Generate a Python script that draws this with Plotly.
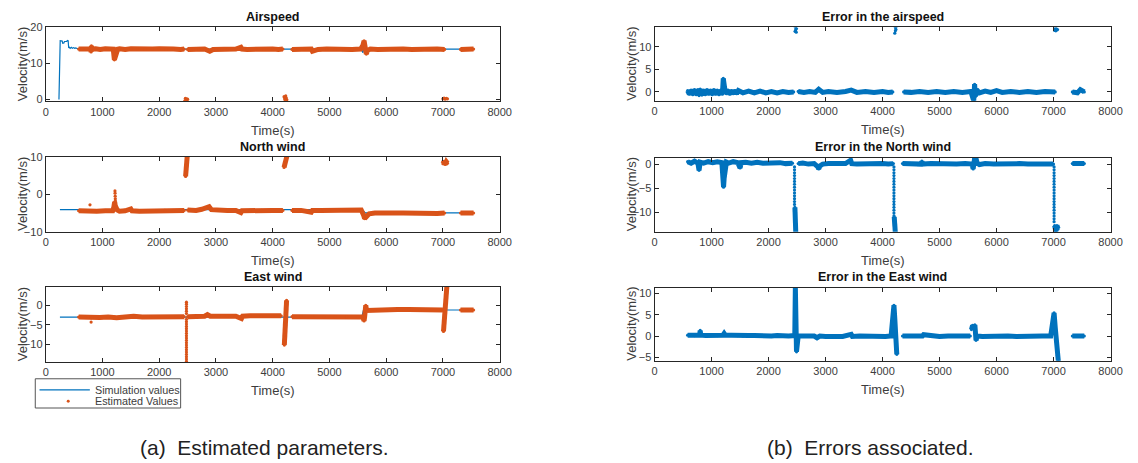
import plotly.graph_objects as go

BLUE = "#0072BD"
ORANGE = "#D95319"
AXC = "#262626"
TXT = "#3c3c3c"
W, H = 1138, 463
FONT = "Liberation Sans, Arial, sans-serif"

# ---------------- simulation values (reference signals) ----------------
air_sim_t = [233, 250, 255, 290, 300, 320, 330, 370, 380, 395, 405, 415, 430, 450, 470,
             490, 510, 530, 560, 600, 5560, 5590, 5620, 5660, 5700, 7500]
air_sim_v = [0.0, 16.2, 16.3, 16.2, 15.6, 15.7, 16.1, 16.1, 16.4, 16.3, 14.3, 14.5, 14.2,
             14.5, 14.2, 14.4, 14.2, 14.3, 14.1, 14.0, 14.0, 13.0, 15.5, 14.0, 14.0, 14.0]

north_sim_t = [250, 5580, 5630, 7500]
north_sim_v = [-4.1, -4.1, -4.95, -4.95]

east_sim_t = [250, 5570, 5600, 7500]
east_sim_v = [-3.0, -3.0, -1.2, -1.2]

# ---------------- estimated values ----------------
air_est_t = [580, 650, 720, 790, 800, 805, 810, 880, 960, 1050, 1130, 1190, 1210, 1220, 1235,
             1250, 1270, 1300, 1400, 1500, 1620, 1750, 1880, 2000, 2120, 2250, 2380, 2440, None,
             2500, 2600, 2700, 2800, 2860, 2890, 2950, 3050, 3200, 3350, 3440, 3460, 3550, 3700,
             3850, 4000, 4100, 4180, None,
             4340, 4450, 4560, 4680, 4700, 4800, 4950, 5100, 5250, 5400, 5550, 5590, 5610, 5630,
             5650, 5670, 5720, 5850, 6000, 6150, 6300, 6450, 6600, 6750, 6900, 7030, None,
             7310, 7400, 7480, 7540]
air_est_v = [14.0, 14.1, 13.9, 14.0, 13.2, 14.9, 14.0, 14.1, 13.9, 14.1, 14.0, 14.0, 11.0, 11.5,
             12.5, 13.5, 14.0, 14.1, 13.9, 14.1, 14.0, 13.9, 14.0, 14.1, 13.9, 14.0, 13.9, 14.0, None,
             13.9, 14.0, 13.9, 14.0, 13.6, 13.4, 13.9, 14.0, 13.9, 14.0, 14.5, 14.0, 13.9, 14.0,
             13.9, 14.0, 13.9, 14.0, None,
             13.9, 14.0, 13.9, 14.0, 13.4, 13.9, 14.0, 13.9, 14.0, 13.9, 14.0, 15.0, 16.3, 14.5,
             12.6, 13.6, 14.0, 13.9, 14.0, 13.9, 14.0, 13.9, 14.0, 13.9, 14.0, 13.9, None,
             13.9, 14.0, 13.9, 14.0]
air_pts_t = [2450, 2460, 2470, 2480, 2490, 2500, 4200, 4210, 4220, 4230, 4240, 4250,
             7000, 7020, 7040, 7060, 7080]
air_pts_v = [-0.4, 0.3, -0.5, 0.2, -0.3, 0.1, 0.8, 0.2, -0.3, 1.0, 0.4, -0.1,
             0.2, 0.4, 0.1, 0.3, 0.2]

north_est_t = [580, 700, 790, 900, 1050, 1180, 1200, 1215, 1225, 1240, 1260, 1300, 1400, 1500,
               1520, 1650, 1800, 1950, 2100, 2250, 2440, None,
               2465, 2475, 2485, 2495, None,
               2500, 2650, 2750, 2850, 2880, 2920, 3050, 3200, 3350, 3440, 3460, 3600, 3800,
               4000, 4180, None,
               4200, 4215, 4235, 4255, None,
               4340, 4500, 4680, 4700, 4850, 5000, 5200, 5400, 5560, 5600, 5620, 5650, 5700,
               5800, 5950, 6100, 6300, 6500, 6700, 6900, 7030, None,
               7000, 7020, 7040, 7060, 7080, None,
               7310, 7420, 7540]
north_est_v = [-4.4, -4.5, -4.4, -4.5, -4.4, -4.4, -3.5, -2.0, -3.0, -3.5, -4.2, -4.5, -4.4, -3.9,
               -4.4, -4.5, -4.4, -4.4, -4.3, -4.4, -4.3, None,
               4.8, 6.5, 8.5, 10.5, None,
               -4.2, -4.3, -4.0, -3.5, -3.3, -4.1, -4.3, -4.3, -4.3, -4.9, -4.4, -4.3, -4.3,
               -4.3, -4.3, None,
               7.2, 8.0, 9.2, 10.5, None,
               -4.3, -4.3, -4.8, -4.3, -4.3, -4.3, -4.3, -4.2, -4.2, -5.5, -6.5, -6.0, -5.2,
               -5.0, -5.1, -5.0, -5.0, -5.1, -5.0, -5.1, -5.0, None,
               8.2, 8.8, 8.0, 8.7, 8.3, None,
               -5.0, -4.9, -5.0]
north_pts_t = [780, 1220, 1222, 1224, 1226, 1228]
north_pts_v = [-2.8, 0.9, 0.3, -0.5, -1.2, -1.8]

east_est_t = [580, 700, 800, 820, 950, 1100, 1250, 1400, 1550, 1700, 1850, 2000, 2150, 2300,
              2440, None,
              2500, 2650, 2800, 2850, 2900, 3050, 3200, 3350, 3450, 3470, 3600, 3800, 4000,
              4150, None,
              4205, 4215, 4225, 4235, 4245, None,
              4340, 4500, 4700, 4900, 5100, 5300, 5500, 5590, 5600, 5610, 5620, 5630, 5640,
              5650, 5660, 5800, 6000, 6200, 6400, 6600, 6800, 7000, None,
              7010, 7025, 7040, 7055, 7070, None,
              7310, 7420, 7540]
east_est_v = [-3.0, -3.1, -3.2, -3.0, -3.1, -3.0, -3.2, -3.0, -2.8, -3.0, -3.0, -3.0, -2.9, -2.9,
              -2.9, None,
              -2.9, -2.8, -2.8, -2.4, -2.8, -2.8, -2.8, -2.8, -3.4, -2.8, -2.7, -2.8, -2.8,
              -2.7, None,
              -10.2, -7.5, -4.5, -1.5, 1.3, None,
              -2.9, -2.9, -2.9, -2.9, -2.9, -2.9, -2.9, -3.0, -3.5, -4.0, -3.0, -1.5, 0.0,
              -1.0, -1.3, -1.2, -1.2, -1.1, -1.1, -1.2, -1.1, -1.2, None,
              -6.7, -4.0, -1.0, 2.0, 5.0, None,
              -1.2, -1.2, -1.2]
east_pts_t = [800, 2480, 2480, 2480, 2480, 2480, 2480, 2480, 2480, 2480, 2480, 2480, 2480,
              2480, 2480, 2480, 2480, 2480, 2480, 2480, 2480, 2480, 2480, 2480, 2480, 2480]
east_pts_v = [-4.3, 0.8, 0.3, -0.3, -0.9, -1.5, -2.1, -3.6, -4.2, -4.8, -5.4, -6.0, -6.6,
              -7.2, -7.8, -8.4, -9.0, -9.6, -10.2, -10.8, -11.4, -12.0, -12.6, -13.2, -13.8, -14.4]

# ---------------- errors (simulation - estimate) ----------------
err_air_t = [580, 610, 640, 670, 700, 730, 760, 780, 800, 830, 860, 890, 920, 950, 980, 1010,
             1040, 1070, 1100, 1130, 1160, 1190, 1205, 1215, 1230, 1260, 1290, 1320, 1350, 1380,
             1410, 1440, 1470, 1550, 1650, 1750, 1850,
             1950, 2050, 2150, 2250, 2350, 2440, None,
             2520, 2620, 2720, 2820, 2880, 2950, 3050, 3200, 3350, 3450, 3550, 3700, 3850, 4000,
             4100, 4180, None,
             4370, 4500, 4650, 4800, 4950, 5100, 5250, 5400, 5550, 5600, 5615, 5630, 5650, 5700,
             5800, 5900, 6000, 6100, 6250, 6400, 6550, 6700, 6850, 7000, 7030, None,
             7330, 7420, 7470, 7540]
err_air_v = [0.3, -0.5, 0.4, -0.6, 0.5, -0.6, 0.5, -0.8, 0.6, -0.7, 0.4, -0.6, 0.5, -0.5,
             0.4, -0.6, 0.5, -0.5, 0.4, -0.6, 0.4, -0.5, 3.0, 1.5, 0.8, -0.4, 0.4, -0.5, 0.3,
             -0.4, 0.3, -0.4, 0.3, -0.2, 0.2, -0.2, 0.2,
             -0.2, 0.1, -0.2, 0.1, -0.1, 0.0, None,
             0.1, -0.1, 0.1, -0.1, 0.6, -0.1, 0.1, -0.1, 0.1, 0.4, -0.1, 0.1, -0.1, 0.1,
             -0.1, 0.0, None,
             0.0, -0.1, 0.1, -0.1, 0.1, -0.1, 0.1, -0.1, 0.1, -2.0, 1.7, -1.0, 0.5, -0.2,
             0.2, -0.1, 0.3, -0.1, 0.1, -0.1, 0.1, -0.1, 0.1, -0.1, 0.0, None,
             0.0, -0.2, 0.5, 0.0]
err_air_pts_t = [2465, 2470, 2475, 2480, 2485, 2490, 4215, 4220, 4225, 4230, 4235, 4240,
                 7020, 7030, 7040, 7050, 7060, 7070]
err_air_pts_v = [13.4, 14.3, 13.7, 14.5, 13.2, 14.0, 13.0, 14.4, 13.5, 14.2, 13.8, 14.5,
                 13.6, 14.1, 13.5, 14.0, 13.7, 13.8]

err_north_t = [580, 640, 700, 760, 780, 800, 860, 940, 1020, 1100, 1180, 1200, 1210, 1220, 1235,
               1260, 1300, 1380, 1460, 1500, 1520, 1600, 1700, 1800, 1900, 2000, 2100, 2200,
               2300, 2420, None,
               2462, 2470, 2478, None,
               2520, 2600, 2700, 2800, 2860, 2880, 2900, 2950, 3050, 3200, 3350, 3440, 3460,
               3550, 3700, 3850, 4000, 4100, 4190, None,
               4205, 4215, 4225, None,
               4350, 4450, 4550, 4680, 4690, 4700, 4850, 5000, 5150, 5300, 5450, 5570, 5590,
               5620, 5640, 5660, 5700, 5800, 5950, 6100, 6250, 6400, 6550, 6700, 6850, 7000, None,
               7020, 7040, 7060, 7080, None,
               7330, 7430, 7540]
err_north_v = [0.5, 0.2, 0.6, 0.2, -1.3, 0.4, 0.2, 0.5, 0.3, 0.5, 0.3, -2.5, -4.8, -3.0, -1.5,
               0.4, 0.2, 0.5, 0.3, -0.8, 0.3, 0.4, 0.2, 0.4, 0.2, 0.3, 0.2, 0.3,
               0.1, 0.2, None,
               -9.0, -11.5, -14.5, None,
               0.1, 0.2, 0.0, 0.1, -0.5, -1.0, -0.4, 0.0, 0.1, 0.0, 0.1, 0.8, 0.1,
               0.0, 0.1, 0.0, 0.1, 0.0, 0.1, None,
               -11.0, -12.5, -14.5, None,
               0.1, 0.0, 0.1, 0.0, 0.6, 0.0, 0.1, 0.0, 0.1, 0.0, 0.1, 0.0, -1.0,
               1.6, 1.2, 0.2, -0.1, 0.1, 0.0, 0.1, 0.0, 0.1, 0.0, 0.1, 0.0, 0.0, None,
               -12.8, -14.0, -12.8, -13.5, None,
               0.1, 0.1, 0.1]
err_north_pts_t = [2455] * 14 + [4200] * 18 + [7010] * 20
err_north_pts_v = [-0.6, -1.2, -1.8, -2.4, -3.0, -3.6, -4.2, -4.8, -5.4, -6.0, -6.6, -7.2, -7.8,
                   -8.4,
                   -0.6, -1.2, -1.8, -2.4, -3.0, -3.6, -4.2, -4.8, -5.4, -6.0, -6.6, -7.2, -7.8,
                   -8.4, -9.0, -9.6, -10.2, -10.8,
                   -0.6, -1.2, -1.8, -2.4, -3.0, -3.6, -4.2, -4.8, -5.4, -6.0, -6.6, -7.2, -7.8,
                   -8.4, -9.0, -9.6, -10.2, -10.8, -11.4, -12.0]

err_east_t = [580, 700, 790, 800, 810, 900, 1000, 1100, 1200, 1220, 1240, 1350, 1450, 1550, 1650,
              1750, 1850, 1950, 2050, 2150, 2250, 2350, 2460, 2470, 2480, 2490, 2520, 2600, 2700,
              2800, 2850, 2900, 3000, 3150, 3300, 3450, 3470, 3600, 3750, 3900, 4050, 4150, 4200,
              4215, 4235, 4250, None,
              4350, 4500, 4700, 4720, 4850, 5000, 5150, 5300, 5450, 5540, None,
              5560, 5580, 5600, 5620, 5640, 5660, 5750, 5900, 6050, 6200, 6350, 6500, 6650,
              6800, 6950, 7010, 7030, 7050, 7070, 7085, None,
              7330, 7430, 7540]
err_east_v = [0.2, 0.1, 0.2, 1.3, 0.2, 0.1, 0.2, 0.1, 0.2, 0.6, 0.2, 0.2, 0.1, 0.0, 0.1,
              0.1, 0.0, 0.1, 0.0, 0.1, 0.0, 0.0, 0.1, 11.5, 4.0, -3.7, 0.0, 0.0, -0.1,
              0.0, -0.4, 0.0, -0.1, 0.0, -0.1, 0.4, -0.1, 0.0, -0.1, 0.0, -0.1, 0.0, 7.2,
              4.0, 0.0, -4.3, None,
              0.0, 0.0, 0.0, 0.3, 0.0, -0.1, 0.0, -0.1, 0.0, 0.0, None,
              1.5, 2.5, 1.8, 2.6, -1.0, 0.0, -0.1, 0.0, -0.1, 0.0, -0.1, 0.0, -0.1,
              0.0, 0.0, 5.4, 2.0, -1.5, -4.5, -6.0, None,
              0.0, 0.0, 0.0]

x_ticks = [0, 1000, 2000, 3000, 4000, 5000, 6000, 7000, 8000]

# panel geometry in pixels: (left, right) and top/bottom
LEFT_X = (43.3, 503.3)
RIGHT_X = (660.3, 1122.3)

panels = [
    dict(title="Airspeed", xs=LEFT_X, top=22, bot=98, yr=[-0.54, 20], yt=[0, 10, 20], ylab_x=20,
         sim=(air_sim_t, air_sim_v), est=(air_est_t, air_est_v), pts=(air_pts_t, air_pts_v),
         color=ORANGE),
    dict(title="North wind", xs=LEFT_X, top=155, bot=231.7, yr=[-10, 10], yt=[-10, 0, 10],
         ylab_x=20, sim=(north_sim_t, north_sim_v), est=(north_est_t, north_est_v),
         pts=(north_pts_t, north_pts_v), color=ORANGE),
    dict(title="East wind", xs=LEFT_X, top=288.3, bot=365.7, yr=[-14.6, 4.75], yt=[-10, -5, 0],
         ylab_x=20, sim=(east_sim_t, east_sim_v), est=(east_est_t, east_est_v),
         pts=(east_pts_t, east_pts_v), color=ORANGE),
    dict(title="Error in the airspeed", xs=RIGHT_X, top=22, bot=97.3, yr=[-1.96, 14.26],
         yt=[0, 5, 10], ylab_x=637, sim=None, est=(err_air_t, err_air_v),
         pts=(err_air_pts_t, err_air_pts_v), color=BLUE),
    dict(title="Error in the North wind", xs=RIGHT_X, top=155.7, bot=231.7, yr=[-14.08, 1.34],
         yt=[-10, -5, 0], ylab_x=637, sim=None, est=(err_north_t, err_north_v),
         pts=(err_north_pts_t, err_north_pts_v), color=BLUE),
    dict(title="Error in the East wind", xs=RIGHT_X, top=289, bot=364.3, yr=[-5.82, 11.36],
         yt=[-5, 0, 5, 10], ylab_x=637, sim=None, est=(err_east_t, err_east_v),
         pts=([], []), color=BLUE),
]

fig = go.Figure()
annotations = []
shapes = []
layout = {}

for i, p in enumerate(panels, start=1):
    xa = "x" if i == 1 else f"x{i}"
    ya = "y" if i == 1 else f"y{i}"
    common = dict(showline=True, linecolor=AXC, linewidth=1, mirror="ticks", ticks="inside",
                  ticklen=4, tickcolor=AXC, tickwidth=1, showgrid=False, zeroline=False,
                  tickfont=dict(family=FONT, size=11, color=TXT))
    layout["xaxis" if i == 1 else f"xaxis{i}"] = dict(
        domain=[p["xs"][0] / W, p["xs"][1] / W], range=[0, 8000], tickvals=x_ticks,
        anchor=ya, **common)
    layout["yaxis" if i == 1 else f"yaxis{i}"] = dict(
        domain=[1 - p["bot"] / H, 1 - p["top"] / H], range=p["yr"], tickvals=p["yt"],
        anchor=xa, **common)

    if p["sim"] is not None:
        fig.add_trace(go.Scatter(x=p["sim"][0], y=p["sim"][1], mode="lines",
                                 line=dict(color=BLUE, width=1.2), name="Simulation values",
                                 showlegend=False, xaxis=xa, yaxis=ya))
    et, ev = p["est"]
    # dense band of estimates
    fig.add_trace(go.Scatter(x=et, y=ev, mode="lines", line=dict(color=p["color"], width=5),
                             connectgaps=False, showlegend=False, hoverinfo="skip",
                             xaxis=xa, yaxis=ya))
    fig.add_trace(go.Scatter(x=et + p["pts"][0], y=ev + p["pts"][1], mode="markers",
                             marker=dict(color=p["color"], size=3.2), name="Estimated Values",
                             showlegend=False, xaxis=xa, yaxis=ya))

    cx = (p["xs"][0] + p["xs"][1]) / 2 / W
    annotations.append(dict(text=f"<b>{p['title']}</b>", x=cx, y=1 - (p["top"] - 10.5) / H,
                            xref="paper", yref="paper", showarrow=False, xanchor="center",
                            yanchor="middle", font=dict(family=FONT, size=12.5, color="#111")))
    annotations.append(dict(text="Time(s)", x=cx, y=1 - (p["bot"] + 29.5) / H,
                            xref="paper", yref="paper", showarrow=False, xanchor="center",
                            yanchor="middle", font=dict(family=FONT, size=13, color=TXT)))
    annotations.append(dict(text="Velocity(m/s)", x=p["ylab_x"] / W,
                            y=1 - (p["top"] + p["bot"]) / 2 / H, xref="paper", yref="paper",
                            showarrow=False, textangle=-90, xanchor="center", yanchor="middle",
                            font=dict(family=FONT, size=13, color=TXT)))


def px(x):
    return x / W


def py(y):
    return 1 - y / H


# legend box under the East wind axes
shapes.append(dict(type="rect", xref="paper", yref="paper", x0=px(32.7), x1=px(180),
                   y0=py(412.7), y1=py(382.7), line=dict(color="#555", width=1),
                   fillcolor="white", layer="above"))
shapes.append(dict(type="line", xref="paper", yref="paper", x0=px(37), x1=px(88),
                   y0=py(394), y1=py(394), line=dict(color=BLUE, width=1.2), layer="above"))
shapes.append(dict(type="circle", xref="paper", yref="paper", x0=px(64.6), x1=px(67.6),
                   y0=py(407.2), y1=py(404.2), line=dict(color=ORANGE, width=0),
                   fillcolor=ORANGE, layer="above"))
for label, yy in (("Simulation values", 394), ("Estimated Values", 405.7)):
    annotations.append(dict(text=label, x=px(91), y=py(yy), xref="paper", yref="paper",
                            showarrow=False, xanchor="left", yanchor="middle",
                            font=dict(family=FONT, size=10.8, color=TXT)))

annotations.append(dict(text="(a)\u00a0\u00a0Estimated parameters.", x=265 / W, y=py(453),
                        xref="paper", yref="paper", showarrow=False, xanchor="center",
                        yanchor="middle", font=dict(family=FONT, size=21, color="#222")))
annotations.append(dict(text="(b)\u00a0\u00a0Errors associated.", x=879 / W, y=py(453),
                        xref="paper", yref="paper", showarrow=False, xanchor="center",
                        yanchor="middle", font=dict(family=FONT, size=21, color="#222")))

fig.update_layout(
    width=W, height=H, margin=dict(l=0, r=0, t=0, b=0),
    paper_bgcolor="white", plot_bgcolor="white",
    annotations=annotations, shapes=shapes, showlegend=False,
    **layout,
)

fig.write_html("out.html")
